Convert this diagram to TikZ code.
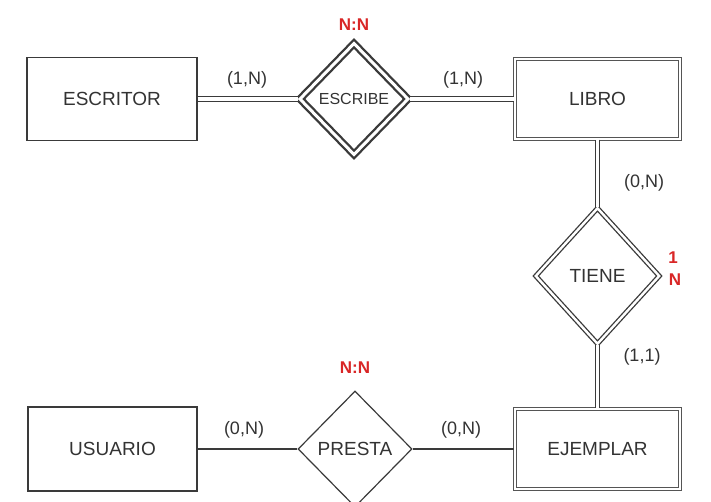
\documentclass[tikz,border=0pt]{standalone}
\usepackage{fontspec}
\setmainfont{Liberation Sans}
\usetikzlibrary{shapes.geometric}
\definecolor{txt}{HTML}{333333}
\definecolor{ln}{HTML}{3A3A3A}
\definecolor{boxln}{HTML}{555555}
\definecolor{card}{HTML}{D92626}
\begin{document}
\begin{tikzpicture}[x=1pt,y=-1pt,
  entity/.style={draw=ln,line width=1.2pt,rectangle,inner sep=0pt,text=txt,font=\fontsize{19}{21}\selectfont},
  weakentity/.style={draw=boxln,rectangle,inner sep=0pt,text=txt,font=\fontsize{19}{21}\selectfont,double,double distance=1.6pt,line width=1.3pt},
  rel/.style={draw=ln,diamond,inner sep=0pt,line width=1.2pt,text=txt,font=\fontsize{19}{21}\selectfont},
  lbl/.style={text=txt,font=\fontsize{18}{20}\selectfont,inner sep=0pt},
  cardlbl/.style={text=card,font=\fontsize{17}{19}\selectfont\bfseries,inner sep=0pt},
  dline/.style={draw=ln,double,double distance=3.4pt,line width=1.1pt},
  sline/.style={draw=ln,line width=1.2pt}]
\useasboundingbox (0,0) rectangle (711,502);
\fill[white] (0,0) rectangle (711,502);

% entities
\node[entity,minimum width=170pt,minimum height=83pt] (escritor) at (112,99) {ESCRITOR};
\node[weakentity,minimum width=165pt,minimum height=80pt] (libro) at (597.5,99) {LIBRO};
\node[entity,minimum width=169pt,minimum height=84pt] (usuario) at (112.5,449) {USUARIO};
\node[weakentity,minimum width=165pt,minimum height=80pt] (ejemplar) at (597.5,449) {EJEMPLAR};

% relationships
\node[rel,double,double distance=3pt,line width=2.3pt,minimum width=109pt,minimum height=112pt,font=\fontsize{16}{18}\selectfont] (escribe) at (354,99) {ESCRIBE};
\node[rel,double,double distance=2.4pt,line width=1.3pt,minimum width=124pt,minimum height=136pt] (tiene) at (597.5,276) {TIENE};
\node[rel,minimum width=114pt,minimum height=116pt] (presta) at (355,449) {PRESTA};

% connectors
\draw[dline] (escritor.east) -- (escribe.west);
\draw[dline] (escribe.east) -- (libro.west);
\draw[dline] (libro.south) -- (tiene.north);
\draw[dline] (tiene.south) -- (ejemplar.north);
\draw[sline] (usuario.east) -- (presta.west);
\draw[sline] (presta.east) -- (ejemplar.west);

% cardinalities
\node[lbl] (c1) at (247,80) {(1,N)};
\node[lbl] (c2) at (463,80) {(1,N)};
\node[lbl] (c3) at (644,183) {(0,N)};
\node[lbl] (c4) at (642,357) {(1,1)};
\node[lbl] (c5) at (244,430) {(0,N)};
\node[lbl] (c6) at (461,430) {(0,N)};

% red labels
\node[cardlbl] (nn1) at (354,25) {N:N};
\node[cardlbl] (nn2) at (355,368) {N:N};
\node[cardlbl] (one) at (673,258) {1};
\node[cardlbl] (enn) at (675,280) {N};
\end{tikzpicture}
\end{document}
